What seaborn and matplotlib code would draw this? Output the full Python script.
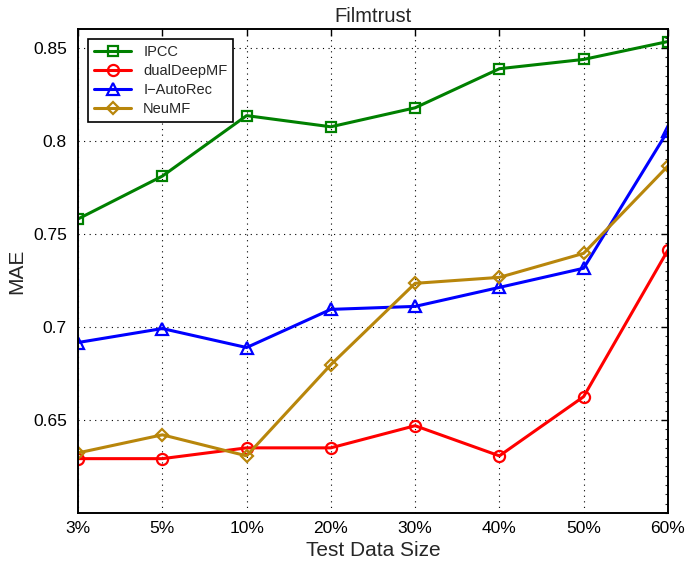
import pandas as pd
import seaborn as sns
import matplotlib.pyplot as plt
from matplotlib.ticker import MultipleLocator

# values
sizes = ['3%', '5%', '10%', '20%', '30%', '40%', '50%', '60%']
ipcc = [0.758, 0.781, 0.8135, 0.8075, 0.8177, 0.8387, 0.8437, 0.8533]
dualdeepmf = [0.6292, 0.6292, 0.635, 0.635, 0.6469, 0.6307, 0.6625, 0.7412]
iautorec = [0.6916, 0.6991, 0.6889, 0.7094, 0.711, 0.7212, 0.7315, 0.8053]
neumf = [0.6323, 0.642, 0.6307, 0.6797, 0.7234, 0.7266, 0.7395, 0.7864]

methods = ['IPCC', 'dualDeepMF', 'I-AutoRec', 'NeuMF']
series = [ipcc, dualdeepmf, iautorec, neumf]
colors = ['#008000', '#ff0000', '#0000ff', '#b8860b']
markers = ['s', 'o', '^', 'D']
msizes = [7, 8, 9, 6.5]

rows = []
for m, vals in zip(methods, series):
    for i, v in enumerate(vals):
        rows.append({'Method': m, 'pos': i, 'MAE': v})
df = pd.DataFrame(rows)

sns.set_style('white')
plt.rcParams['font.family'] = ['Liberation Sans', 'DejaVu Sans']

fig = plt.figure(figsize=(6.85, 5.7), dpi=100)
ax = fig.add_axes([0.114, 0.1, 0.861, 0.849])

for m, c, mk, ms in zip(methods, colors, markers, msizes):
    sub = df[df['Method'] == m]
    sns.lineplot(data=sub, x='pos', y='MAE', ax=ax, color=c, lw=2.2,
                 marker=mk, markersize=ms, markerfacecolor='none',
                 markeredgecolor=c, markeredgewidth=1.6, label=m.replace('-', '\u2212'))

ax.set_xlim(0, len(sizes) - 1)
ax.set_ylim(0.6, 0.86)
ax.set_xticks(range(len(sizes)))
ax.set_xticklabels(sizes)
ax.set_yticks([0.65, 0.7, 0.75, 0.8, 0.85])
ax.set_yticklabels(['0.65', '0.7', '0.75', '0.8', '0.85'])
ax.yaxis.set_minor_locator(MultipleLocator(0.005))
ax.tick_params(axis='both', which='major', direction='in', length=5, width=1,
               top=True, right=True, labelsize=12.5, pad=8, colors='black')
ax.tick_params(axis='x', which='major', pad=6)
ax.tick_params(axis='y', which='minor', direction='in', length=2.5, width=0.8,
               left=False, right=True)

for s in ax.spines.values():
    s.set_visible(True)
    s.set_color('black')
    s.set_linewidth(1.4)

ax.grid(True, which='major', linestyle=(0, (1, 4)), color='black', linewidth=0.8)

ax.set_title('Filmtrust', fontsize=14.5, pad=5)
ax.set_xlabel('Test Data Size', fontsize=15, labelpad=3)
ax.set_ylabel('MAE', fontsize=15, labelpad=5)

leg = ax.legend(loc='upper left', bbox_to_anchor=(0.004, 0.994), fontsize=10.5,
                fancybox=False, framealpha=1, edgecolor='black',
                handlelength=2.6, borderpad=0.4, labelspacing=0.35)
leg.get_frame().set_linewidth(1.2)

fig.savefig('out.png', dpi=100)
